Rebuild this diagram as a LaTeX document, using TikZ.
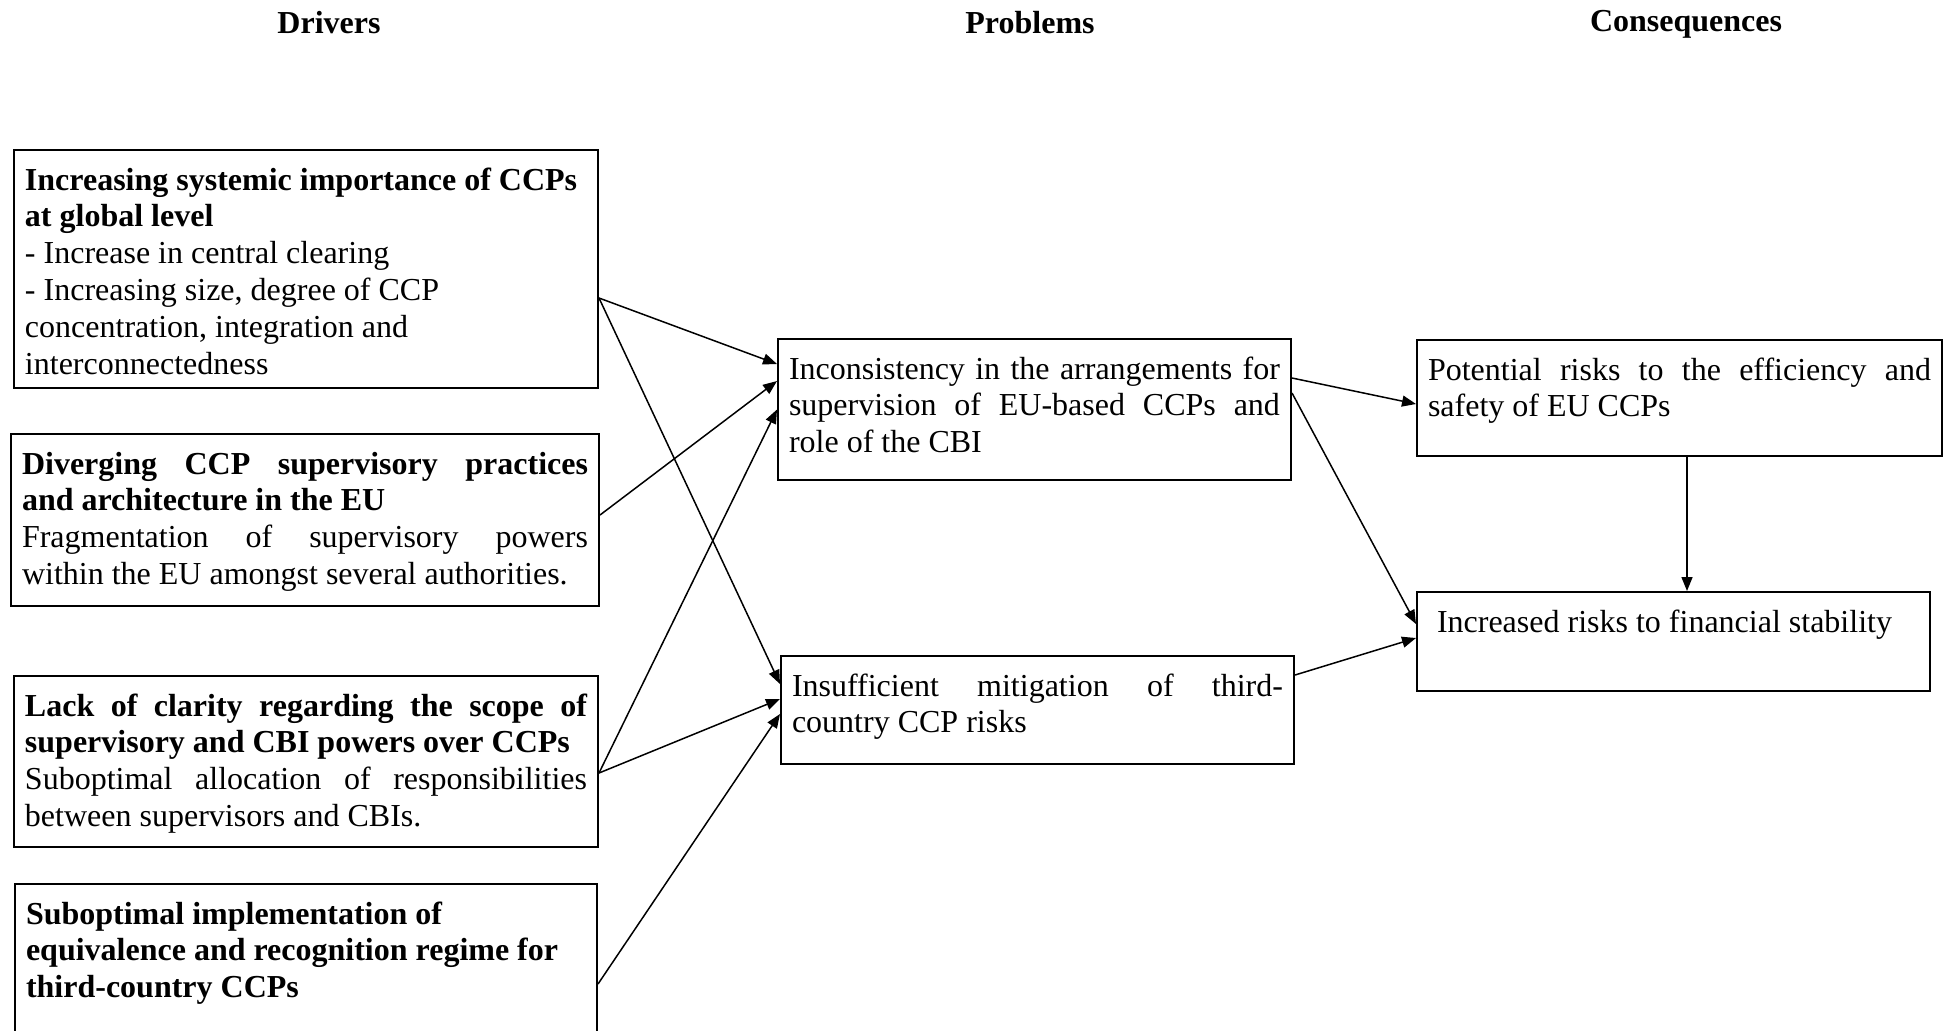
\documentclass[tikz,border=0pt]{standalone}
\usepackage{fontspec}
\setmainfont{Liberation Serif}
\usepackage{tikz}
\usetikzlibrary{arrows.meta}

\newcommand{\boxtext}[3]{\parbox[t][#2][t]{#1}{\rule{0pt}{20pt}#3}}

\begin{document}
\begin{tikzpicture}[x=0.5pt,y=-0.5pt,->,>={Triangle[length=7pt,width=5.5pt]},line width=0.75pt,
				cell/.style={draw,line width=1pt,anchor=north west,inner xsep=5.5pt,inner ysep=0pt,
				font=\fontsize{16pt}{18.4pt}\selectfont},
				head/.style={anchor=base,font=\fontsize{16pt}{18.4pt}\selectfont\bfseries}]
				
				\useasboundingbox (0,0) rectangle (1953,1030);
				
				\node[head] (hd) at (329,33) {Drivers};
				\node[head] (hp) at (1030,33) {Problems};
				\node[head] (hc) at (1686,31) {Consequences};
				
				\node[cell] (d1) at (13,149) {\boxtext{281pt}{119pt}{\raggedright\textbf{Increasing systemic importance of CCPs\\ at global level}\\ - Increase in central clearing\\ - Increasing size, degree of CCP\\ concentration, integration and\\ interconnectedness}};
				\node[cell] (d2) at (10,433) {\boxtext{283pt}{86pt}{\textbf{Diverging CCP supervisory practices\linebreak and architecture in the EU}\\ Fragmentation of supervisory powers\linebreak within the EU amongst several authorities.}};
				\node[cell] (d3) at (13,675) {\boxtext{281pt}{85.5pt}{\textbf{Lack of clarity regarding the scope of\linebreak supervisory and CBI powers over CCPs}\\ Suboptimal allocation of responsibilities\linebreak between supervisors and CBIs.}};
				\node[cell] (d4) at (14,883) {\boxtext{280pt}{80pt}{\raggedright\textbf{Suboptimal implementation of\\ equivalence and recognition regime for\\ third-country CCPs}}};
				
				\node[cell] (p1) at (777,338) {\boxtext{245.5pt}{70.5pt}{Inconsistency in the arrangements for\linebreak supervision of EU-based CCPs and\linebreak role of the CBI}};
				\node[cell] (p2) at (780,655) {\boxtext{245.5pt}{54pt}{Insufficient mitigation of third-\linebreak country CCP risks}};
				
				\node[cell] (c1) at (1416,339) {\boxtext{251.5pt}{58pt}{Potential risks to the efficiency and\linebreak safety of EU CCPs}};
				\node[cell] (c2) at (1416,591) {\boxtext{245.5pt}{49.5pt}{\hspace{4.5pt}Increased risks to financial stability}};
				
				\draw ([yshift=-14.5pt]d1.east) -- ([yshift=22.75pt]p1.west);
				\draw ([yshift=-14.5pt]d1.east) -- ([yshift=13pt]p2.west);
				\draw ([yshift=2.5pt]d2.east) -- ([yshift=14.25pt]p1.west);
				\draw ([yshift=-5.75pt]d3.east) -- (p1.west);
				\draw ([yshift=-5.75pt]d3.east) -- ([yshift=5.5pt]p2.west);
				\draw ([yshift=-10pt]d4.east) -- ([yshift=-2pt]p2.west);
				
				\draw ([yshift=15.75pt]p1.east) -- ([yshift=-3pt]c1.west);
				\draw ([yshift=8.25pt]p1.east) -- ([yshift=8.75pt]c2.west);
				\draw ([yshift=17.5pt]p2.east) -- ([yshift=1.75pt]c2.west);
				\draw ([xshift=3.75pt]c1.south) -- ([xshift=3.75pt]c1.south |- c2.north);
				
				\end{tikzpicture}
\end{document}
